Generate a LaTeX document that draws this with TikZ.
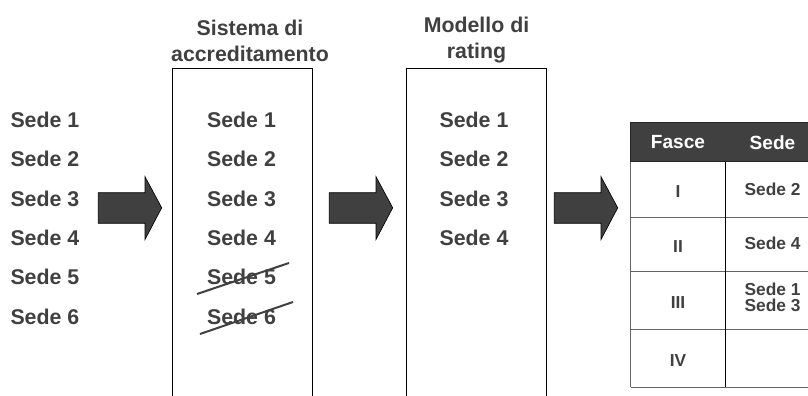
\documentclass[tikz,border=0pt]{standalone}
\usepackage{fontspec}
\setmainfont{Liberation Sans}
\usetikzlibrary{calc}
\definecolor{darkgrey}{RGB}{64,64,64}
\definecolor{linegrey}{RGB}{100,100,100}
\tikzset{every picture/.style={line width=0.75pt}}
\tikzset{
  sedetext/.style={text=darkgrey,font=\fontsize{16}{19.5}\selectfont\bfseries,inner sep=0pt},
  titletext/.style={sedetext,align=center,anchor=north},
  celltext/.style={text=darkgrey,font=\fontsize{13}{12.4}\selectfont\bfseries,inner sep=0pt,align=center},
  headtext/.style={text=white,font=\fontsize{14.3}{17}\selectfont\bfseries,inner sep=0pt},
  colbox/.style={draw=black,line width=0.75pt},
  blockarrow/.style={draw=black,fill=darkgrey,line width=0.5pt},
  strike/.style={draw=darkgrey,line width=1.5pt},
  cellline/.style={draw=linegrey,line width=1.1pt},
}

\begin{document}
\begin{tikzpicture}[x=0.75pt,y=0.75pt,yscale=-1,xscale=1]
\useasboundingbox (0,0) rectangle (808,396);
\begin{scope}
\clip (0,0) rectangle (808,396);

%Shape: Rectangle [accreditamento]
\draw [colbox] (172.7,400) -- (172.7,68.5) -- (312.7,68.5) -- (312.7,400) ;
%Shape: Rectangle [rating]
\draw [colbox] (406.7,400) -- (406.7,68.5) -- (546.7,68.5) -- (546.7,400) ;

%Titles
\node [titletext] (acctitle) at (250,19.5) {Sistema di\\accreditamento};
\node [titletext] (rattitle) at (476.5,16.5) {Modello di\\rating};

%Sedi
\foreach \i/\y in {1/120,2/159.3,3/198.6,4/237.9,5/277.2,6/316.5}
  \node [sedetext,anchor=west] (in\i) at (10,\y) {Sede \i};
\foreach \i/\y in {1/120,2/159.3,3/198.6,4/237.9,5/277.2,6/316.5}
  \node [sedetext] (acc\i) at (241.5,\y) {Sede \i};
\foreach \i/\y in {1/120,2/159.3,3/198.6,4/237.9}
  \node [sedetext] (rat\i) at (474,\y) {Sede \i};

%Straight Lines [strike]
\draw [strike] ($(acc5.center)+(-44.5,16.8)$) -- ($(acc5.center)+(47.5,-14.2)$) ;
\draw [strike] ($(acc6.center)+(-41.5,17.5)$) -- ($(acc6.center)+(51.5,-14.5)$) ;

%Block Arrows
\foreach \ax in {98.3,329.3,554.3}
  \draw [blockarrow] (\ax,192.7) -- (\ax+46.7,192.7) -- (\ax+46.7,176.7) -- (\ax+63.4,207.8) -- (\ax+46.7,239.5) -- (\ax+46.7,223.3) -- (\ax,223.3) -- cycle ;

%Table header
\draw [fill=darkgrey,draw=black!85] (630.7,122.7) rectangle (830,161.7) ;
\node [headtext] (fasce) at (678,142.5) {Fasce};
\node [headtext] (sede) at (772.5,142.5) {Sede};

%Table lines
\foreach \y in {217.3,271.7,329.3,387.3}
  \draw [cellline] (630.7,\y) -- (830,\y) ;
\draw [cellline] (630.7,161.7) -- (630.7,387.3) ;
\draw [black,line width=0.75pt] (725,161.7) -- (725,387.3) ;

%Table cells
\node [celltext] (f1) at (678,191.5) {I};
\node [celltext] (f2) at (678,246.5) {II};
\node [celltext] (f3) at (678,302.5) {III};
\node [celltext] (f4) at (678,360.5) {IV};
\node [celltext] (s1) at (772.5,189) {Sede 2};
\node [celltext] (s2) at (772.5,243) {Sede 4};
\node [celltext] (s3) at (772.5,297.3) {Sede 1\\Sede 3};

\end{scope}
\end{tikzpicture}
\end{document}
